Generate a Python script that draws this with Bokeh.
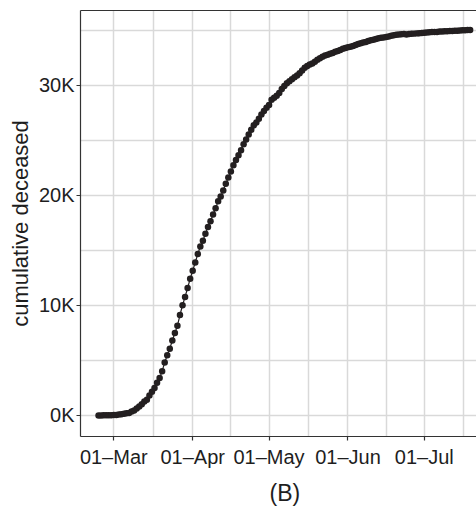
import pandas as pd
from bokeh.plotting import figure
from bokeh.models import Range1d, FixedTicker, LinearAxis, Title, ColumnDataSource
from bokeh.embed import file_html
from bokeh.resources import INLINE

# ---- data ----
start_date = "2020-02-24"
deceased = [
    7, 10, 12, 17, 21, 29,
    34, 52, 79, 107, 148, 197, 233, 366, 463, 631, 827, 1016, 1266, 1441, 1809,
    2158, 2503, 2978, 3405, 4032, 4825, 5476, 6077, 6820, 7503, 8165, 9134, 10023,
    10779, 11591, 12428,
    13155, 13915, 14681, 15362, 15887, 16523, 17127, 17669, 18279, 18849, 19468,
    19899, 20465, 21067, 21645, 22170, 22745, 23227, 23660, 24114, 24648, 25085,
    25549, 25969, 26384, 26644, 26977, 27359, 27682, 27967,
    28236, 28710, 28884, 29079, 29315, 29684, 29958, 30201, 30395, 30560, 30739,
    30911, 31106, 31368, 31610, 31763, 31908, 32007, 32169, 32330, 32486, 32616,
    32735, 32785, 32877, 32955, 33072, 33142, 33229, 33340, 33415,
    33475, 33530, 33601, 33689, 33774, 33846, 33899, 33964, 34043, 34114, 34167,
    34223, 34301, 34345, 34371, 34405, 34448, 34514, 34561, 34610, 34634, 34657,
    34675, 34644, 34678, 34708, 34716, 34738, 34744, 34767,
    34788, 34818, 34833, 34854, 34861, 34869, 34899, 34914, 34926, 34938, 34945,
    34954, 34967, 34984, 34997, 35017, 35028, 35042, 35045,
]
x_tick_dates = ["2020-03-01", "2020-04-01", "2020-05-01", "2020-06-01", "2020-07-01"]
x_tick_labels = ["01\u2013Mar", "01\u2013Apr", "01\u2013May", "01\u2013Jun", "01\u2013Jul"]
x_minor_dates = ["2020-03-16 12:00", "2020-04-16", "2020-05-16 12:00", "2020-06-16", "2020-07-16 12:00"]
y_ticks = [0, 10000, 20000, 30000]
y_tick_labels = ["0K", "10K", "20K", "30K"]
y_minor = [5000, 15000, 25000, 35000]
x_limits = ["2020-02-16 22:05", "2020-07-21 12:00"]
y_limits = [-1910, 36818]
y_title = "cumulative deceased"
panel_title = "(B)"


def ms(d):
    return int(pd.Timestamp(d).value // 10**6)


dates = pd.date_range(start_date, periods=len(deceased), freq="D")
src = ColumnDataSource(dict(date=dates, deceased=deceased))

FONT = "Liberation Sans"
INK = "#231f20"
TXT = "#1e1e1e"
AX = "#333333"
GRID = "#d9d9d9"

p = figure(width=476, height=514, x_axis_type="datetime",
           output_backend="svg", toolbar_location=None,
           x_range=Range1d(ms(x_limits[0]), ms(x_limits[1])),
           y_range=Range1d(y_limits[0], y_limits[1]),
           min_border_left=80, min_border_right=0, min_border_top=10,
           min_border_bottom=78)
p.outline_line_color = None
p.background_fill_color = "white"
p.border_fill_color = "white"

xt = [ms(d) for d in x_tick_dates]
p.xaxis.ticker = FixedTicker(ticks=xt, minor_ticks=[ms(d) for d in x_minor_dates])
p.xaxis.major_label_overrides = {t: l for t, l in zip(xt, x_tick_labels)}
p.yaxis.ticker = FixedTicker(ticks=y_ticks, minor_ticks=y_minor)
p.yaxis.major_label_overrides = {t: l for t, l in zip(y_ticks, y_tick_labels)}
p.yaxis.axis_label = y_title

for ax in (p.xaxis, p.yaxis):
    ax.axis_line_color = AX
    ax.axis_line_width = 1.2
    ax.major_tick_line_color = AX
    ax.major_tick_line_width = 1.2
    ax.major_tick_out = 4
    ax.major_tick_in = 0
    ax.minor_tick_line_color = None
    ax.major_label_text_font = FONT
    ax.major_label_text_font_size = "20px"
    ax.major_label_text_color = TXT
    ax.axis_label_text_font = FONT
    ax.axis_label_text_font_size = "22px"
    ax.axis_label_text_font_style = "normal"
    ax.axis_label_text_color = TXT
p.xaxis.major_label_standoff = 5
p.yaxis.major_label_standoff = 2
p.yaxis.axis_label_standoff = 3

for g in (p.xgrid, p.ygrid):
    g.grid_line_color = GRID
    g.grid_line_width = 1.5
    g.minor_grid_line_color = GRID
    g.minor_grid_line_width = 1.5

top = LinearAxis(ticker=FixedTicker(ticks=[]), major_label_text_font_size="0px",
                 major_tick_out=0, major_tick_in=0, minor_tick_out=0, minor_tick_in=0,
                 major_label_standoff=0, axis_line_color=AX, axis_line_width=1.2)
p.add_layout(top, "above")

p.line("date", "deceased", source=src, line_color=INK, line_width=1.2)
p.scatter("date", "deceased", source=src, size=6.5, fill_color=INK, line_color=INK, line_width=0)

t = Title(text=panel_title, align="left", offset=189, standoff=14, text_font=FONT,
          text_font_size="23px", text_font_style="normal", text_color=TXT)
p.add_layout(t, "below")

open("out.html", "w").write(file_html(p, INLINE))
